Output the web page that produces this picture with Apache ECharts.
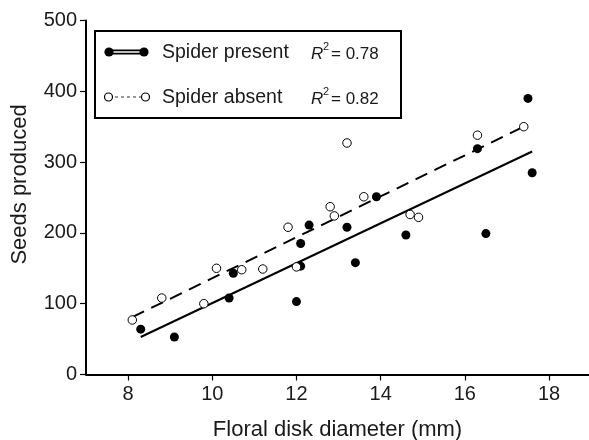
<!DOCTYPE html>
<html><head><meta charset="utf-8">
<script src="https://cdn.jsdelivr.net/npm/echarts@6/dist/echarts.min.js"></script>
<style>html,body{margin:0;padding:0;background:#fff}#c{width:589px;height:440px}</style>
</head><body><div id="c"></div>
<script>
// ---- data ----
const presentX = [8.3, 9.1, 10.4, 10.5, 12.0, 12.1, 12.1, 12.3, 13.2, 13.4, 13.9, 14.6, 16.3, 16.5, 17.5, 17.6];
const presentY = [64, 53, 108, 143, 103, 153, 185, 211, 208, 158, 251, 197, 319, 199, 390, 285];
const absentX = [8.1, 8.8, 9.8, 10.1, 10.7, 11.2, 11.8, 12.0, 12.8, 12.9, 13.2, 13.6, 14.7, 14.9, 16.3, 17.4];
const absentY = [77, 108, 100, 150, 148, 149, 208, 152, 237, 224, 327, 251, 226, 222, 338, 350];
const presentFitX = [8.3, 17.6];
const presentFitY = [53, 315];
const absentFitX = [8.1, 17.4];
const absentFitY = [81, 350];
const xTicks = [8, 10, 12, 14, 16, 18];
const yTicks = [0, 100, 200, 300, 400, 500];
const seriesNames = ['Spider present', 'Spider absent'];
const r2Values = ['0.78', '0.82'];
const xTitle = 'Floral disk diameter (mm)';
const yTitle = 'Seeds produced';

const zip = (xs, ys) => xs.map((x, i) => [x, ys[i]]);
const FONT = 'Liberation Sans, Arial, Helvetica, sans-serif';
const TXT = '#1a1a1a';

const chart = echarts.init(document.getElementById('c'), null, {renderer: 'canvas'});

const rowY = [52, 97];
const graphics = [
  {type: 'rect', shape: {x: 95, y: 31, width: 306, height: 87},
   style: {fill: '#fff', stroke: '#000', lineWidth: 2}, z: 10},
  // row 1 icon: double line with filled circles
  {type: 'line', shape: {x1: 109, y1: rowY[0], x2: 144, y2: rowY[0]}, style: {stroke: '#000', lineWidth: 5}, z: 11},
  {type: 'line', shape: {x1: 109, y1: rowY[0], x2: 144, y2: rowY[0]}, style: {stroke: '#fff', lineWidth: 1.6}, z: 12},
  {type: 'circle', shape: {cx: 109, cy: rowY[0], r: 4.6}, style: {fill: '#000'}, z: 13},
  {type: 'circle', shape: {cx: 144, cy: rowY[0], r: 4.6}, style: {fill: '#000'}, z: 13},
  // row 2 icon: dotted line with open circles
  {type: 'line', shape: {x1: 109, y1: rowY[1], x2: 145, y2: rowY[1]}, style: {stroke: '#333', lineWidth: 1.2, lineDash: [3, 3]}, z: 11},
  {type: 'circle', shape: {cx: 108.5, cy: rowY[1], r: 4}, style: {fill: '#fff', stroke: '#000', lineWidth: 1.2}, z: 13},
  {type: 'circle', shape: {cx: 145.5, cy: rowY[1], r: 4}, style: {fill: '#fff', stroke: '#000', lineWidth: 1.2}, z: 13}
];
seriesNames.forEach((n, i) => {
  graphics.push({type: 'text', x: 162, y: rowY[i] + 1, z: 13,
    style: {text: n, font: '19.5px ' + FONT, fill: TXT, verticalAlign: 'middle', align: 'left'}});
  graphics.push({type: 'text', x: 311, y: rowY[i] + 2, z: 13,
    style: {text: 'R', font: 'italic 17px ' + FONT, fill: TXT, verticalAlign: 'middle', align: 'left'}});
  graphics.push({type: 'text', x: 323, y: rowY[i] - 5, z: 13,
    style: {text: '2', font: '11px ' + FONT, fill: TXT, verticalAlign: 'middle', align: 'left'}});
  graphics.push({type: 'text', x: 331, y: rowY[i] + 2, z: 13,
    style: {text: '= ' + r2Values[i], font: '17px ' + FONT, fill: TXT, verticalAlign: 'middle', align: 'left'}});
});

chart.setOption({
  animation: false,
  backgroundColor: '#fff',
  grid: {left: 86, right: 0, top: 20.5, bottom: 65.5, containLabel: false, outerBoundsMode: 'none'},
  xAxis: {
    type: 'value', min: 7, max: 18.95,
    splitLine: {show: false},
    axisLine: {onZero: false, lineStyle: {color: '#000', width: 2}},
    axisTick: {length: 6, customValues: xTicks, lineStyle: {color: '#000', width: 1.2}},
    axisLabel: {customValues: xTicks, fontSize: 20, fontFamily: FONT, color: TXT, margin: 10},
    name: xTitle, nameLocation: 'middle', nameGap: 44,
    nameTextStyle: {fontSize: 22, fontFamily: FONT, color: TXT}
  },
  yAxis: {
    type: 'value', min: 0, max: 500, interval: 100,
    splitLine: {show: false},
    axisLine: {onZero: false, lineStyle: {color: '#000', width: 2}},
    axisTick: {length: 6, lineStyle: {color: '#000', width: 1.2}},
    axisLabel: {fontSize: 20, fontFamily: FONT, color: TXT, margin: 9,
      formatter: v => yTicks.includes(v) ? String(v) : ''},
    name: yTitle, nameLocation: 'middle', nameGap: 55,
    nameTextStyle: {fontSize: 22, fontFamily: FONT, color: TXT, padding: [0, 0, 0, 26]}
  },
  series: [
    {type: 'line', name: 'presentFit', data: zip(presentFitX, presentFitY), showSymbol: false, symbol: 'none',
     lineStyle: {color: '#000', width: 2}, z: 2, silent: true},
    {type: 'line', name: 'absentFit', data: zip(absentFitX, absentFitY), showSymbol: false, symbol: 'none',
     lineStyle: {color: '#000', width: 2, type: [13, 8]}, z: 2, silent: true},
    {type: 'scatter', name: seriesNames[0], data: zip(presentX, presentY), symbol: 'circle', symbolSize: 9,
     itemStyle: {color: '#000', opacity: 1}, z: 3},
    {type: 'scatter', name: seriesNames[1], data: zip(absentX, absentY), symbol: 'circle', symbolSize: 8.5,
     itemStyle: {color: '#fff', borderColor: '#000', borderWidth: 1, opacity: 1}, z: 4}
  ],
  graphic: graphics
});
</script>
</body></html>
